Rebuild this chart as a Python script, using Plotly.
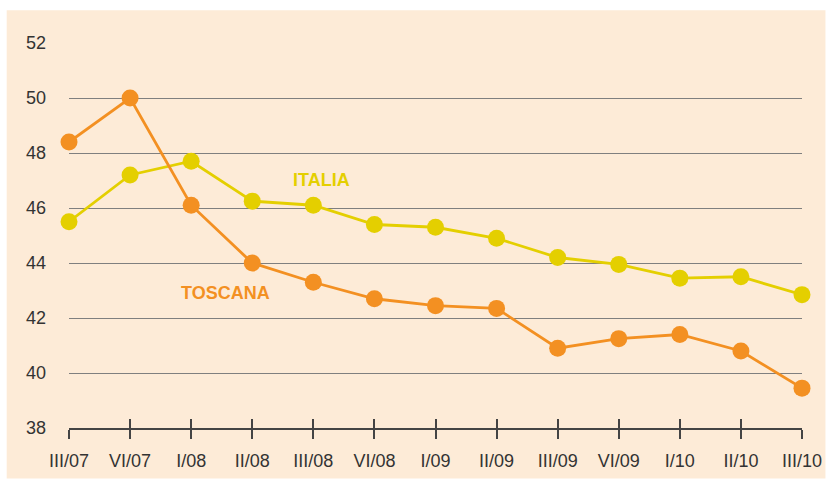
import plotly.graph_objects as go

quarters = ["III/07", "VI/07", "I/08", "II/08", "III/08", "VI/08", "I/09",
            "II/09", "III/09", "VI/09", "I/10", "II/10", "III/10"]
toscana = [48.4, 50.0, 46.1, 44.0, 43.3, 42.7, 42.45, 42.35, 40.9, 41.25, 41.4, 40.8, 39.45]
italia = [45.5, 47.2, 47.7, 46.25, 46.1, 45.4, 45.3, 44.9, 44.2, 43.95, 43.45, 43.5, 42.85]

orange = "#F39022"
yellow = "#E4CF00"
bg = "#FDEBD7"
fnt = "Liberation Sans Narrow, Liberation Sans"

fig = go.Figure()
fig.add_trace(go.Scatter(x=quarters, y=italia, mode="lines+markers", name="ITALIA",
                         line=dict(color=yellow, width=2.8),
                         marker=dict(color=yellow, size=17), cliponaxis=False))
fig.add_trace(go.Scatter(x=quarters, y=toscana, mode="lines+markers", name="TOSCANA",
                         line=dict(color=orange, width=2.8),
                         marker=dict(color=orange, size=17), cliponaxis=False))
# dummy trace on overlaid axis to get ticks above the baseline too
fig.add_trace(go.Scatter(x=quarters, y=italia, xaxis="x2", mode="none",
                         showlegend=False, hoverinfo="skip"))

fig.add_annotation(x=4.13, y=47.03, text="<b>ITALIA</b>", showarrow=False,
                   font=dict(color=yellow, size=18, family=fnt))
fig.add_annotation(x=2.56, y=42.9, text="<b>TOSCANA</b>", showarrow=False,
                   font=dict(color=orange, size=18, family=fnt))

# beige panel (white strip left and top); kept inside the figure on right/bottom
# so the page does not overflow
fig.add_shape(type="rect", xref="paper", yref="paper", x0=-0.085, x1=1.032,
              y0=-0.131, y1=1.0848, fillcolor=bg, line_width=0, layer="below")

fig.update_layout(
    width=834, height=483, autosize=False,
    margin=dict(l=69, r=24, t=43, b=51),
    paper_bgcolor="white", plot_bgcolor="rgba(0,0,0,0)",
    showlegend=False,
    font=dict(family=fnt, size=18, color="#333333"),
    xaxis=dict(type="category", range=[0, 12], showgrid=False, zeroline=False,
               showline=True, linecolor="#444444", linewidth=1.5,
               ticks="outside", ticklen=9, tickwidth=1.5, tickcolor="#444444",
               ticklabelstandoff=7),
    xaxis2=dict(type="category", range=[0, 12], overlaying="x", anchor="y", side="bottom",
                showgrid=False, zeroline=False, showticklabels=False,
                ticks="inside", ticklen=9, tickwidth=1.5, tickcolor="#444444"),
    yaxis=dict(range=[38, 52], dtick=2, showgrid=True, gridcolor="#7f7f7f", gridwidth=1.3,
               zeroline=False, showline=False, ticks="", ticklabelstandoff=22),
)

fig.write_html("out.html", config={"responsive": False, "displayModeBar": False},
               post_script="document.body.style.margin='0';"
                           "document.body.style.background='" + bg + "';")
